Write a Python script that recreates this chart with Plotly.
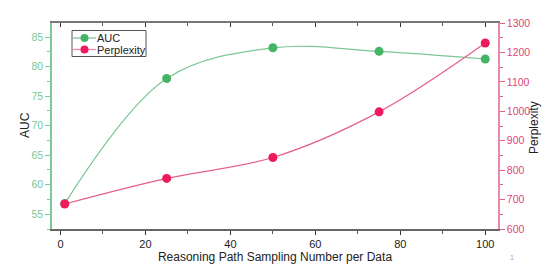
import plotly.graph_objects as go

x_vals = [1, 25, 50, 75, 100]
auc = [56.8, 78.0, 83.2, 82.6, 81.3]
perplexity = [685, 772, 843, 998, 1232]
series_names = ["AUC", "Perplexity"]

green_line = "#7cc795"
green_mark = "#45b466"
pink_line = "#e4608a"
pink_mark = "#ef1a5c"
font = "Liberation Sans, Arial, sans-serif"

# plot area in pixels (for placing paper-referenced decorations)
L, R, T, B = 52, 498, 23, 229
def px(x):
    return (x - L) / (R - L)
def py(y):
    return (B - y) / (B - T)

fig = go.Figure()
fig.add_trace(go.Scatter(x=x_vals, y=auc, name=series_names[0], mode="lines+markers",
                         line=dict(color=green_line, width=1.2, shape="spline", smoothing=1.0),
                         marker=dict(color=green_mark, size=9), yaxis="y", showlegend=False))
fig.add_trace(go.Scatter(x=x_vals, y=perplexity, name=series_names[1], mode="lines+markers",
                         line=dict(color=pink_line, width=1.2, shape="spline", smoothing=1.0),
                         marker=dict(color=pink_mark, size=9), yaxis="y2", showlegend=False))
# invisible trace so the top mirror axis is drawn
fig.add_trace(go.Scatter(x=x_vals, y=auc, xaxis="x2", yaxis="y", mode="markers",
                         marker=dict(opacity=0), showlegend=False, hoverinfo="skip"))

fig.update_layout(
    width=558, height=269,
    margin=dict(l=L, r=558 - R, t=T, b=269 - B),
    paper_bgcolor="white", plot_bgcolor="white",
    font=dict(family=font, size=12, color="#222"),
    showlegend=False,
    xaxis=dict(range=[-2, 103], dtick=20, tick0=0, showgrid=False, zeroline=False,
               showline=True, linecolor="#666", linewidth=2, automargin=False,
               ticks="outside", ticklen=4, tickcolor="#333", tickwidth=1,
               minor=dict(dtick=10, ticks="outside", ticklen=3, tickcolor="#555"),
               tickfont=dict(size=11, color="#222"),
               title=dict(text="Reasoning Path Sampling Number per Data", font=dict(size=12, color="#222"), standoff=3)),
    xaxis2=dict(range=[-2, 103], dtick=20, tick0=0, overlaying="x", side="top", anchor="y",
                showgrid=False, zeroline=False, showline=True, linecolor="#777", linewidth=2,
                ticks="inside", ticklen=4, tickcolor="#333", showticklabels=False, automargin=False,
                minor=dict(dtick=10, ticks="inside", ticklen=3, tickcolor="#555")),
    yaxis=dict(range=[52.5, 87.4], dtick=5, tick0=55, showgrid=False, zeroline=False,
               showline=True, linecolor=green_line, linewidth=1.5, automargin=False,
               ticks="outside", ticklen=5, tickcolor=green_line,
               minor=dict(dtick=2.5, ticks="outside", ticklen=3, tickcolor=green_line),
               tickfont=dict(size=10.5, color=green_line)),
    yaxis2=dict(range=[600, 1300], dtick=100, overlaying="y", side="right", anchor="x",
                showgrid=False, zeroline=False, automargin=False,
                showline=True, linecolor="#e88aa8", linewidth=1.5,
                ticks="outside", ticklen=5, tickcolor="#e4608a",
                minor=dict(dtick=50, ticks="outside", ticklen=3, tickcolor="#e4608a"),
                tickfont=dict(size=10.5, color="#e0457a")),
)

# axis titles
fig.add_annotation(text="AUC", xref="paper", yref="paper", xanchor="center", yanchor="middle",
                   x=px(25), y=py(125), textangle=-90,
                   showarrow=False, font=dict(size=12, color="#222"))
fig.add_annotation(text="Perplexity", xref="paper", yref="paper", xanchor="center", yanchor="middle",
                   x=px(534), y=py(128), textangle=-90,
                   showarrow=False, font=dict(size=12, color="#222"))
fig.add_annotation(text="1", xref="paper", yref="paper", showarrow=False,
                   xanchor="center", yanchor="middle", x=px(512), y=py(257),
                   font=dict(size=7, color="#aaa"))

# legend box (drawn by hand to match compact Origin-style legend)
fig.add_shape(type="rect", xref="paper", yref="paper", x0=px(72), x1=px(146), y0=py(56.5), y1=py(30.5),
              line=dict(color="#555", width=1), fillcolor="white", layer="above")
legend_items = [(series_names[0], green_line, green_mark, 38),
                (series_names[1], "#e890ae", pink_mark, 49.5)]
for name, lc, mc, yy in legend_items:
    fig.add_shape(type="line", xref="paper", yref="paper", x0=px(73), x1=px(96), y0=py(yy), y1=py(yy),
                  line=dict(color=lc, width=1.3), layer="above")
    fig.add_shape(type="circle", xref="paper", yref="paper", x0=px(80.5), x1=px(88.5), y0=py(yy + 4), y1=py(yy - 4),
                  line=dict(color=mc, width=0), fillcolor=mc, layer="above")
    fig.add_annotation(text=name, xref="paper", yref="paper", xanchor="left", yanchor="middle",
                       x=px(95), y=py(yy), showarrow=False, font=dict(size=11, color="#222"))

fig.write_html("out.html", config={"displayModeBar": False},
               post_script="document.body.style.margin='0';document.body.style.overflow='hidden';")
